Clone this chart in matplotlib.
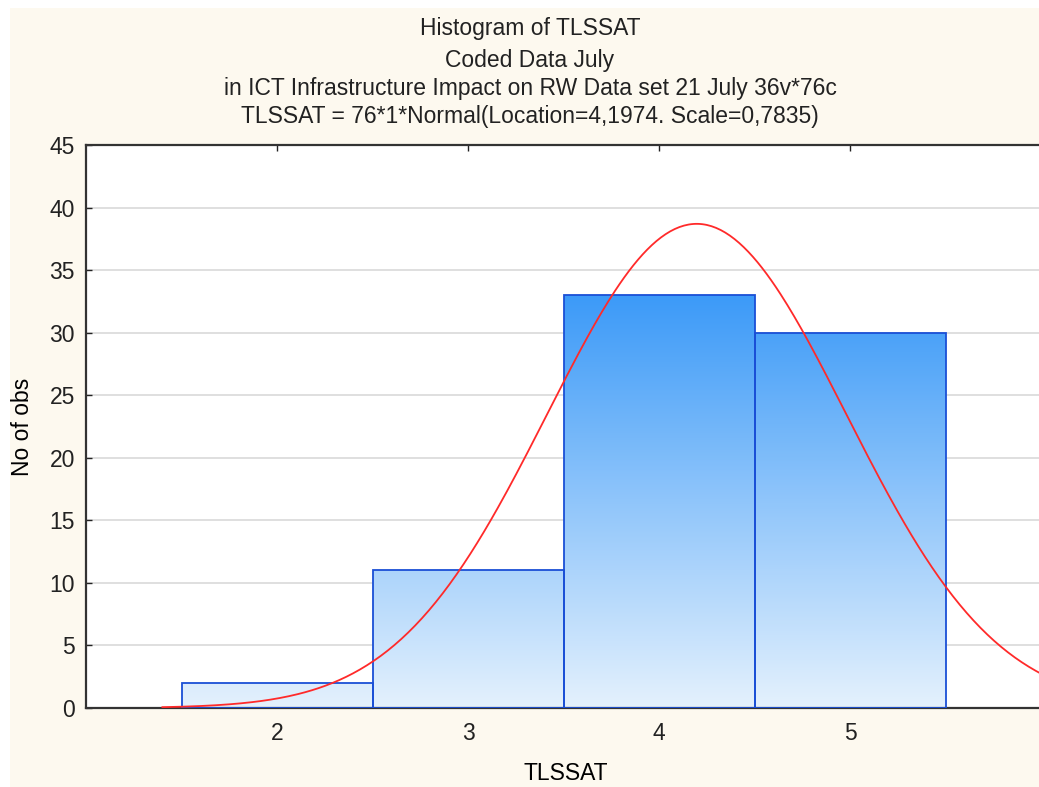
import numpy as np
import matplotlib.pyplot as plt
from matplotlib.colors import LinearSegmentedColormap
from matplotlib.patches import Rectangle

plt.rcParams['font.family'] = ['Liberation Sans', 'DejaVu Sans']

# data
bins = [2, 3, 4, 5]
counts = [2, 11, 33, 30]
n_obs = 76
loc = 4.1974
scale = 0.7835
titles = ["Histogram of TLSSAT",
          "Coded Data July",
          "in ICT Infrastructure Impact on RW Data set 21 July 36v*76c",
          "TLSSAT = 76*1*Normal(Location=4,1974. Scale=0,7835)"]

fig = plt.figure(figsize=(10.39, 7.87), dpi=100)
fig.patch.set_facecolor('white')
fig.patches.append(Rectangle((10/1039, 0), 1 - 10/1039, 1 - 8/787,
                             transform=fig.transFigure, facecolor='#fdf9ef',
                             edgecolor='none', zorder=-10))

W, H = 1039, 787
ax = fig.add_axes([86/W, 1 - 708/H, (1045 - 86)/W, (708 - 145)/H])
ax.set_facecolor('white')

cmap = LinearSegmentedColormap.from_list('g', ['#e4f1fd', '#3c9af8'])
bars = ax.bar(bins, counts, width=1.0, facecolor='none', edgecolor='#1a4fd6',
              linewidth=1.3, zorder=3)
for b in bars:
    x0, h = b.get_x(), b.get_height()
    grad = np.linspace(0, h / max(counts), 256).reshape(-1, 1)
    im = ax.imshow(grad, cmap=cmap, vmin=0, vmax=1, origin='lower', aspect='auto',
                   extent=(x0, x0 + b.get_width(), 0, h), zorder=2)
    im.set_clip_path(b)

ax.set_xlim(1, 1 + (1045 - 86)/191)
ax.set_ylim(0, 45)

xs = np.linspace(1.4, 6.2, 400)
ys = n_obs * np.exp(-0.5 * ((xs - loc) / scale) ** 2) / (scale * np.sqrt(2 * np.pi))
ax.plot(xs, ys, color='#ff2a2a', lw=1.3, zorder=4)

ax.set_yticks(range(0, 46, 5))
ax.set_xticks(bins)
ax.yaxis.grid(True, color='#d9d9d9', lw=1.2, zorder=0)
ax.set_axisbelow(True)
ax.tick_params(direction='in', length=4, labelsize=16.5, width=1, colors='#222222',
               top=True, right=True, pad=8)
ax.tick_params(axis='x', pad=10)
for s in ax.spines.values():
    s.set_color('#333333')
    s.set_linewidth(1.6)

ax.set_xlabel('TLSSAT', fontsize=16.5, labelpad=12)
ax.set_ylabel('No of obs', fontsize=16.5, labelpad=11)

ys_title = [28, 60, 88, 117]
for t, yp in zip(titles, ys_title):
    fig.text(530/W, 1 - yp/H, t, ha='center', va='center', fontsize=16.5, color='#222222')

fig.savefig('out.png', dpi=100)
